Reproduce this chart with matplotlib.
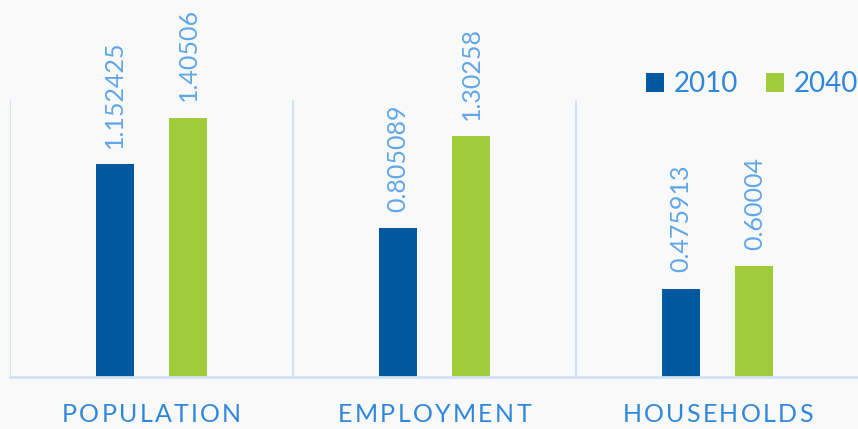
import matplotlib
matplotlib.use("Agg")
import matplotlib.pyplot as plt
import numpy as np

categories = ["POPULATION", "EMPLOYMENT", "HOUSEHOLDS"]
series_names = ["2010", "2040"]
values_2010 = [1.152425, 0.805089, 0.475913]
values_2040 = [1.40506, 1.30258, 0.60004]
value_labels_2010 = ["1.152425", "0.805089", "0.475913"]
value_labels_2040 = ["1.40506", "1.30258", "0.60004"]

FONT = "Lato"
BG = "#f9f9f9"
BLUE = "#00589f"
GREEN = "#a2cb3b"
TEXT = "#2f87dc"
VAL_TEXT = "#5fa6e9"
GRID = "#cfe2f6"

W, H = 858, 429
fig = plt.figure(figsize=(W / 100, H / 100), dpi=100, facecolor=BG)
ax = fig.add_axes([10 / W, (H - 377) / H, 849 / W, 277 / H], facecolor=BG)

x = np.arange(len(categories))
bw = 0.134
off = 0.13
b1 = ax.bar(x - off, values_2010, bw, color=BLUE, zorder=3, label=series_names[0])
b2 = ax.bar(x + off, values_2040, bw, color=GREEN, zorder=3, label=series_names[1])

ax.set_xlim(-0.5, 2.5)
ax.set_ylim(0, 1.5)
for s in ax.spines.values():
    s.set_visible(False)
ax.set_xticks([])
ax.set_yticks([])

for xv in [-0.5, 0.5, 1.5]:
    ax.axvline(xv, color=GRID, lw=1.5, zorder=1)
ax.axhline(0, color=GRID, lw=2, zorder=4, clip_on=False)

for bars, labels in [(b1, value_labels_2010), (b2, value_labels_2040)]:
    for rect, lab in zip(bars, labels):
        ax.annotate(lab, (rect.get_x() + rect.get_width() / 2, rect.get_height()),
                    xytext=(0, 12), textcoords="offset points", rotation=90,
                    ha="center", va="bottom", color=VAL_TEXT, fontsize=18,
                    family=FONT, annotation_clip=False)

# Category labels with letter spacing
renderer = fig.canvas.get_renderer()
tracking = 2.3  # px
label_y = H - 414
for i, cat in enumerate(categories):
    widths = []
    for ch in cat:
        t = fig.text(0, 0, ch, fontsize=18, family=FONT)
        widths.append(t.get_window_extent(renderer).width)
        t.remove()
    total = sum(widths) + tracking * (len(cat) - 1)
    cx = ax.transData.transform((x[i], 0))[0]
    start = cx - total / 2
    pos = start
    for ch, w in zip(cat, widths):
        fig.text(pos / W, label_y / H, ch, fontsize=18, family=FONT, color=TEXT,
                 ha="left", va="center")
        pos += w + tracking

leg = fig.legend(handles=[b1, b2], labels=series_names, loc="upper right",
                 bbox_to_anchor=(1.0, (H - 71) / H), ncol=2, frameon=False,
                 prop={"family": FONT, "size": 20}, handlelength=0.65,
                 handleheight=0.7, handletextpad=0.35, columnspacing=1.0,
                 borderaxespad=0.0, borderpad=0.0)
for t in leg.get_texts():
    t.set_color(TEXT)

fig.savefig("out.png", dpi=100, facecolor=BG)
